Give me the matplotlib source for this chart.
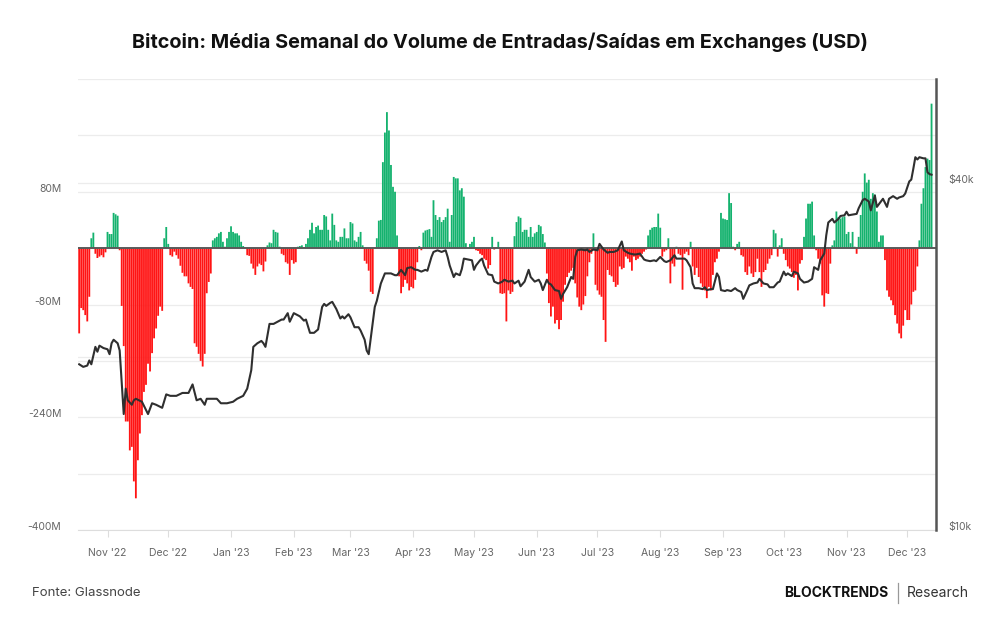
import matplotlib
matplotlib.use("Agg")
import matplotlib.pyplot as plt
import matplotlib.transforms as mtransforms
import numpy as np
import pandas as pd

plt.rcParams['font.family'] = ['Inter', 'DejaVu Sans']

# fluxo liquido diario (media semanal), milhoes de USD, a partir de 18/10/2022
flows = [
    -121, -85, -88, -95, -104, -69, 14, 22, -8, -14, -12, -10, -13, -6,
    23, 20, 20, 50, 48, 46, -3,
    -82, -139, -246, -246, -287, -282, -331, -355, -301, -263, -237, -204, -194, -164,
    -175, -149, -128, -114, -96, -83, -89,
    14, 30, 6, -10, -12,
    -5, -10, -15, -25, -35, -40, -40, -50, -55, -58, -135, -140, -150, -160, -168, -150,
    -64, -48, -36,
    11, 14, 16, 21, 23, 9, 2, 14, 23, 31, 23, 21, 21, 18, 9, 3, 1,
    -10, -11, -22, -29, -38, -26, -22, -24, -33, -19,
    4, 8, 7, 26, 23, 22, 2,
    -8, -10, -20, -22, -38, -17, -22, -20,
    2, 3, 4, 1, 6,
    14, 26, 36, 21, 30, 32, 26,
    26, 47, 45, 26, 11, 49, 33, 11, 9, 16, 16, 28, 14, 14, 37, 35, 11, 9, 16, 23, 4,
    -18, -22, -32, -62, -65, -1,
    14, 39, 40, 122, 164, 193, 167, 118, 87, 80, 18,
    -40, -64, -55, -45, -50, -60, -55, -57, -45, -20, 3, -3,
    22, 25, 26, 27, 16, 68, 47, 40, 44, 37,
    40, 44, 56, 9, 47, 101, 99, 99, 82, 85, 73, 7, 0, 6, 9, 16,
    -3, -4, -8, -10, -15, -17, -29, -24, 16, -2, 1, 9,
    -64, -65, -64, -104, -60, -65, -62,
    17, 37, 45, 43, 23, 26, 26, 16, 30, 16, 21, 23, 33, 31, 20, 8,
    -36, -78, -97, -83, -107, -102, -115, -102, -76, -52, -41,
    -35, -32, -28, -50, -70, -83, -88, -80, -68, -40, -20, -8, 21,
    -52, -60, -66, -69, -102, -133, -31, -38, -40, -48, -55, -52,
    -26, -30, -28, -12, -15, -20, -32, -12, -17, -15, -12, -8, -5, -2,
    18, 26, 29, 30, 30, 49, 29,
    -12, -5, -3, 14, -50, -22, -26, 2, -8, -10, -59, -8, -5,
    -10, 9, -26, -38, -28, -41, -50, -55, -60, -71, -55, -60, -38, -20, -15, -5,
    50, 42, 41, 40, 78, 64, 2, -3, 6, 9,
    -10, -12, -34, -38, -26, -36, -41, -34, -15, -34, -55, -34, -31, -22, -15, -10,
    26, 21, -12, 4, 14, -8, -17, -26, -29, -34, -42, -38, -60, -22, -17,
    16, 42, 63, 63, 66,
    18, -3, -15, -22, -67, -83, -64, -65, -22,
    4, 11, 52, 44, 42, 44, 45, 20, 23, 7, 23, 2, -8,
    16, 47, 80, 106, 93, 97, 70, 78, 76, 52, 9, 18, 18,
    -17, -60, -69, -74, -81, -95, -107, -121, -128, -110, -88, -102, -102, -80, -62, -60, -26,
    11, 63, 85, 115, 127, 125, 205,
]

# preco do BTC (milhares de USD), dia contado a partir de 18/10/2022
price_day = [
    0, 2, 4, 5, 6, 8, 9, 10, 12, 14, 15, 16, 17, 19, 20, 21, 22, 23, 24, 26, 27, 28, 31, 34,
    36, 38, 41, 43, 45, 48, 51, 54, 56, 58, 60, 62, 63, 66, 68, 70, 72, 73, 76, 78, 81, 83,
    85, 86, 88, 90, 91, 92, 94, 96, 98, 100, 101, 103, 104, 106, 109, 111, 112, 114, 116,
    118, 120, 121, 122, 124, 125, 127, 129, 130, 131, 133, 134, 136, 138, 139, 141, 142, 143,
    144, 146, 147, 149, 151, 152, 154, 156, 157, 159, 161, 162, 164, 166, 167, 169, 171, 172,
    174, 175, 177, 179, 181, 182, 183, 185, 186, 188, 189, 190, 192, 194, 195, 196, 198, 199,
    200, 202, 204, 205, 207, 209, 210, 212, 214, 215, 217, 218, 220, 222, 223, 225, 227, 228,
    229, 231, 232, 233, 235, 237, 238, 239, 241, 243, 244, 245, 246, 248, 250, 251, 252, 254,
    256, 257, 259, 261, 262, 264, 266, 268, 269, 271, 272, 274, 275, 277, 279, 280, 282, 284,
    285, 287, 289, 290, 292, 294, 295, 297, 299, 300, 302, 303, 304, 306, 308, 309, 310, 312,
    313, 315, 316, 317, 319, 320, 322, 324, 325, 327, 328, 330, 331, 333, 335, 336, 338, 340,
    341, 343, 345, 346, 348, 349, 350, 352, 353, 355, 356, 358, 360, 362, 363, 365, 366, 368,
    369, 370, 372, 373, 375, 376, 378, 379, 380, 382, 384, 385, 387, 388, 390, 391, 393, 394,
    395, 397, 399, 400, 402, 404, 405, 407, 408, 410, 411, 412, 413, 414, 415, 417, 418, 419,
    420, 421,
]
price_k = [
    19.4, 19.2, 19.3, 19.7, 19.4, 20.8, 20.4, 20.9, 20.7, 20.6, 20.2, 21.1, 21.4, 21.1, 20.5,
    18.0, 15.9, 17.6, 16.8, 16.5, 16.8, 16.9, 16.7, 15.9, 16.6, 16.5, 16.3, 17.2, 17.1, 17.1,
    17.3, 17.3, 17.9, 16.8, 16.9, 16.5, 16.9, 16.9, 16.9, 16.6, 16.6, 16.6, 16.7, 16.9, 17.1,
    17.6, 18.95, 20.8, 21.1, 21.3, 21.1, 20.8, 22.8, 22.8, 23.0, 23.2, 23.2, 23.8, 23.0, 23.8,
    23.5, 23.1, 23.2, 22.0, 22.0, 22.3, 24.4, 24.7, 24.5, 24.8, 24.9, 24.2, 23.3, 23.5, 23.3,
    23.7, 23.4, 22.5, 22.5, 22.2, 21.4, 20.5, 20.2, 21.5, 24.4, 25.0, 26.8, 27.9, 27.9, 27.9,
    27.7, 27.7, 28.3, 27.7, 28.5, 28.6, 28.3, 28.3, 28.1, 28.3, 28.2, 29.8, 30.4, 30.6, 30.4,
    30.6, 29.8, 28.8, 27.5, 27.9, 27.7, 28.4, 29.6, 29.5, 29.4, 28.3, 28.8, 29.4, 29.6, 28.8,
    27.8, 27.7, 27.0, 26.8, 27.0, 27.2, 27.0, 27.1, 26.8, 27.1, 26.5, 27.0, 28.3, 27.5, 27.0,
    27.2, 26.8, 26.1, 27.2, 26.8, 26.7, 26.1, 26.0, 25.2, 25.7, 26.4, 27.5, 27.3, 29.8, 30.6,
    30.7, 30.6, 30.7, 30.4, 30.7, 30.6, 31.4, 30.7, 30.3, 30.4, 30.4, 30.6, 31.7, 30.6, 30.3,
    30.2, 30.1, 30.1, 30.2, 29.5, 29.4, 29.3, 29.4, 29.3, 29.8, 29.3, 29.2, 29.4, 30.0, 29.6,
    29.6, 29.6, 29.4, 28.6, 26.8, 26.3, 26.3, 26.2, 26.4, 26.1, 26.2, 26.2, 27.9, 27.5, 26.1,
    26.0, 26.1, 26.0, 26.3, 26.1, 25.9, 25.2, 26.1, 26.6, 26.8, 26.9, 27.3, 26.8, 26.7, 26.4,
    26.4, 26.9, 27.0, 28.1, 27.7, 27.9, 27.6, 28.1, 27.9, 27.3, 26.9, 27.0, 27.3, 28.6, 28.3,
    29.4, 30.2, 32.5, 34.2, 34.7, 34.2, 34.7, 35.1, 35.2, 35.7, 35.2, 35.3, 35.4, 36.2, 37.4,
    37.6, 37.2, 35.9, 38.1, 36.4, 36.8, 37.6, 36.4, 37.6, 38.0, 37.6, 37.8, 38.0, 38.4, 40.3,
    40.6, 42.4, 44.4, 44.0, 44.4, 44.2, 44.2, 41.8, 41.5, 41.4,
]

left_ticks = [-400, -240, -80, 80]
left_labels = ['-400M', '-240M', '-80M', '80M']
right_ticks = [10000, 40000]
right_labels = ['$10k', '$40k']
month_labels = ["Nov '22", "Dec '22", "Jan '23", "Feb '23", "Mar '23", "Apr '23", "May '23",
                "Jun '23", "Jul '23", "Aug '23", "Sep '23", "Oct '23", "Nov '23", "Dec '23"]

start = pd.Timestamp('2022-10-18')
dates = pd.date_range(start, periods=len(flows), freq='D')
flows = np.array(flows, dtype=float)
price_dates = start + pd.to_timedelta(price_day, unit='D')
price = np.array(price_k) * 1000

fig = plt.figure(figsize=(10, 6.3), dpi=100)
ax = fig.add_axes([0.078, 0.1587, 0.858, 0.7159])
ax2 = ax.twinx()

grid_c = '#ececec'
for v in range(-400, 241, 80):
    ax.axhline(v, color=grid_c, lw=0.9, zorder=0)
blend = mtransforms.blended_transform_factory(ax.transAxes, ax2.transData)

# barras diarias: verde = saida liquida, vermelho = entrada liquida
pos = flows >= 0
ax.bar(dates[pos], flows[pos], width=0.9, color='#14b26e', zorder=2,
       linewidth=0, snap=False)
ax.bar(dates[~pos], flows[~pos], width=0.9, color='#ff1414', zorder=2,
       linewidth=0, snap=False)
ax.axhline(0, color='#5a5a5a', lw=1.4, zorder=3)

ax.set_ylim(-400, 240)
ax.set_yticks(left_ticks)
ax.set_yticklabels(left_labels)
ax.tick_params(axis='y', length=0, pad=12, labelsize=7.5, labelcolor='#666666')
off = mtransforms.ScaledTranslation(0, 4 / 100, fig.dpi_scale_trans)
for lab in ax.get_yticklabels():
    lab.set_transform(lab.get_transform() + off)

xmin = start - pd.Timedelta(hours=14)
xmax = start + pd.Timedelta(days=423.2)
ax.set_xlim(xmin, xmax)
months = pd.date_range('2022-11-01', '2023-12-01', freq='MS')
ax.set_xticks(months)
ax.set_xticklabels(month_labels)
ax.tick_params(axis='x', length=5, width=0.8, color='#dddddd', pad=8,
               labelsize=7.5, labelcolor='#666666')

for s in ['top', 'right', 'left']:
    ax.spines[s].set_visible(False)
ax.spines['bottom'].set_color('#dddddd')

ax2.set_yscale('log')
ax2.set_ylim(10000, 60700)
for p in [20000, 40000]:
    ax.plot([0, 1], [p, p], transform=blend, color=grid_c, lw=0.9, zorder=0)
ax2.plot(price_dates, price, color='#2f2f2f', lw=1.5, zorder=4)
ax2.set_yticks(right_ticks)
ax2.set_yticklabels(right_labels)
ax2.yaxis.set_minor_locator(matplotlib.ticker.NullLocator())
ax2.tick_params(axis='y', length=0, pad=9, labelsize=7.5, labelcolor='#666666')
for lab in ax2.get_yticklabels():
    lab.set_transform(lab.get_transform() + off)
for s in ['top', 'left', 'bottom']:
    ax2.spines[s].set_visible(False)
ax2.spines['right'].set_color('#555555')
ax2.spines['right'].set_linewidth(1.8)
ax2.set_xlim(xmin, xmax)

fig.text(0.5, 0.933, 'Bitcoin: Média Semanal do Volume de Entradas/Saídas em Exchanges (USD)',
         ha='center', va='center', fontsize=14.3, fontweight='bold', color='#111111')

fig.text(0.032, 0.059, 'Fonte: Glassnode', ha='left', va='center', fontsize=9.5, color='#444444')
fig.text(0.888, 0.059, 'BLOCKTRENDS', ha='right', va='center', fontsize=10,
         fontweight='bold', color='#111111')
fig.add_artist(plt.Line2D([0.898, 0.898], [0.043, 0.075], color='#999999', lw=0.9))
fig.text(0.907, 0.059, 'Research', ha='left', va='center', fontsize=10, color='#333333')

fig.savefig('out.png', dpi=100, facecolor='white')
